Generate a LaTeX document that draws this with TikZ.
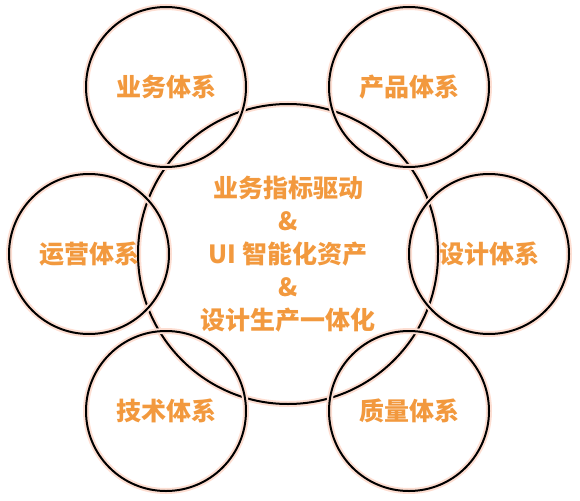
\documentclass[tikz,border=0pt]{standalone}
\usepackage{fontspec}
\newfontfamily\cjk{Noto Sans CJK SC}
\usetikzlibrary{positioning}
\definecolor{labelorange}{RGB}{242,153,62}
\definecolor{glowpink}{RGB}{253,222,210}

\begin{document}
\begin{tikzpicture}[x=1pt, y=-1pt,
    ring/.style={circle, draw=black, line width=2pt, inner sep=0pt,
        preaction={draw=glowpink, line width=6pt},
        text=labelorange, font=\cjk\bfseries\fontsize{25}{33}\selectfont, align=center},
    small/.style={ring, minimum size=160pt},
    big/.style={ring, minimum size=300pt}]
    \useasboundingbox (0,0) rectangle (580,500);

    % Centre
    \node[big] (core) at (288,254) {业务指标驱动\\\&\\UI 智能化资产\\\&\\设计生产一体化};

    % Surrounding systems
    \node[small] (biz) at (166,87) {业务体系};
    \node[small] (prod) at (409,87) {产品体系};
    \node[small] (ops) at (89,254) {运营体系};
    \node[small] (design) at (489,254) {设计体系};
    \node[small] (tech) at (166,411) {技术体系};
    \node[small] (qual) at (409,411) {质量体系};
\end{tikzpicture}
\end{document}
